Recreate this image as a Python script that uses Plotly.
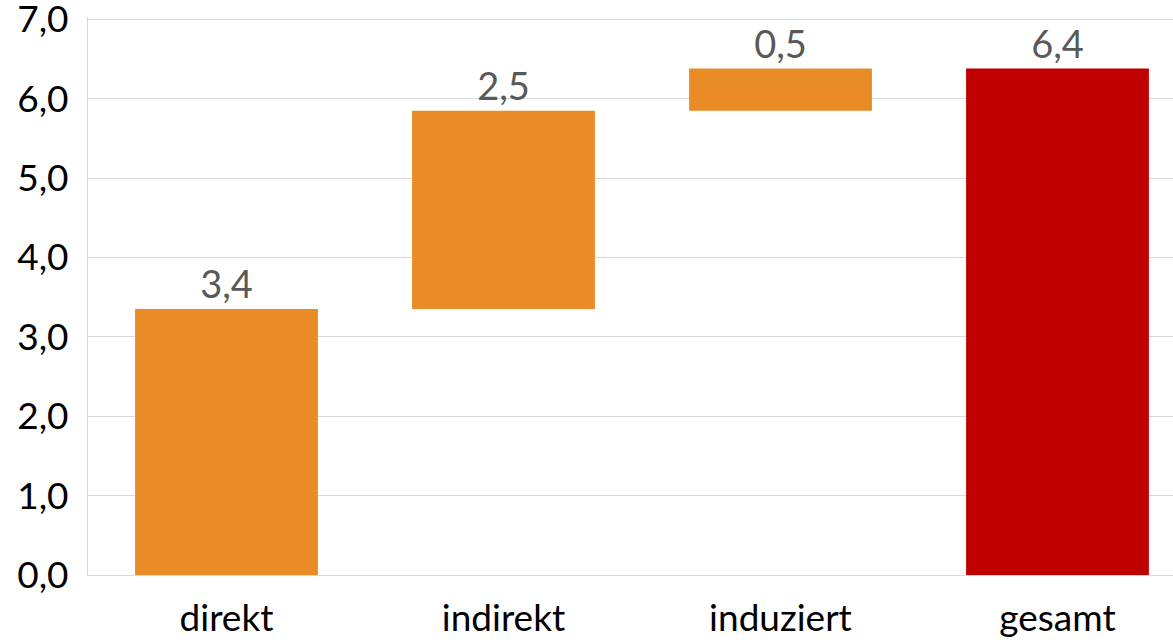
import plotly.graph_objects as go

categories = ["direkt", "indirekt", "induziert", "gesamt"]
values = [3.35, 2.50, 0.53, 0]
measures = ["relative", "relative", "relative", "total"]
labels = ["3,4", "2,5", "0,5", "6,4"]
y_ticks = [0, 1, 2, 3, 4, 5, 6, 7]
y_tick_labels = ["0,0", "1,0", "2,0", "3,0", "4,0", "5,0", "6,0", "7,0"]

FONT = "Lato, Calibri, sans-serif"

fig = go.Figure(go.Waterfall(
    x=categories,
    y=values,
    measure=measures,
    text=labels,
    textposition="outside",
    textfont=dict(family=FONT, size=38, color="#595959"),
    increasing=dict(marker=dict(color="#E98B27")),
    decreasing=dict(marker=dict(color="#E98B27")),
    totals=dict(marker=dict(color="#C00000")),
    connector=dict(visible=False),
    cliponaxis=False,
    hoverinfo="skip",
))

fig.update_layout(
    width=1173, height=644,
    margin=dict(l=88, r=0, t=17, b=69),
    paper_bgcolor="white", plot_bgcolor="white",
    waterfallgap=0.34,
    showlegend=False,
    separators=",.",
    font=dict(family=FONT, color="#000000"),
)
fig.update_xaxes(
    range=[-0.5, 3.417],
    automargin=False,
    showgrid=False,
    showline=True, linecolor="#D9D9D9", linewidth=1,
    ticks="",
    tickfont=dict(family=FONT, size=37, color="#000000"),
    ticklabelstandoff=11,
)
fig.update_yaxes(
    range=[0, 7.03],
    automargin=False,
    tickvals=y_ticks, ticktext=y_tick_labels,
    showgrid=True, gridcolor="#D9D9D9", gridwidth=1,
    zeroline=False,
    showline=True, linecolor="#D9D9D9", linewidth=1,
    ticks="",
    ticklabeloverflow="allow",
    tickfont=dict(family=FONT, size=37, color="#000000"),
    ticklabelstandoff=11,
)

fig.write_html(
    "out.html",
    config={"displayModeBar": False},
    post_script="document.body.style.margin='0';",
)
